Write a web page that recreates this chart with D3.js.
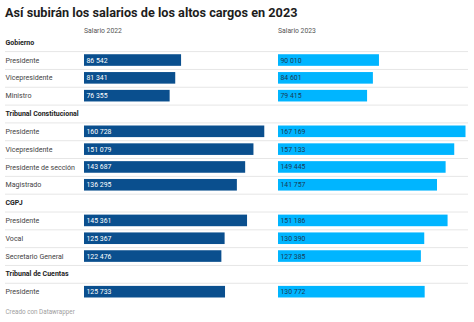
<!DOCTYPE html>
<html>
<head>
<meta charset="utf-8">
<script src="https://cdn.jsdelivr.net/npm/d3@7"></script>
<style>
  body { margin: 0; background: #fff; font-family: Roboto, "Noto Sans", sans-serif; }
  svg text { font-family: Roboto, "Noto Sans", sans-serif; }
</style>
</head>
<body>
<div id="chart"></div>
<script>
// data
var groups = ["Gobierno", "Tribunal Constitucional", "CGPJ", "Tribunal de Cuentas"];
var cargos = [
  ["Presidente", "Vicepresidente", "Ministro"],
  ["Presidente", "Vicepresidente", "Presidente de sección", "Magistrado"],
  ["Presidente", "Vocal", "Secretario General"],
  ["Presidente"]
];
var salario2022 = [
  [86542, 81341, 76355],
  [160728, 151079, 143687, 136295],
  [145361, 125367, 122476],
  [125733]
];
var salario2023 = [
  [90010, 84601, 79415],
  [167169, 157133, 149445, 141757],
  [151186, 130390, 127385],
  [130772]
];
var columns = ["Salario 2022", "Salario 2023"];

var width = 474, height = 322;
var svg = d3.select("#chart").append("svg")
  .attr("width", width)
  .attr("height", height);

// flatten into rows (headers take a slot too)
var rows = [];
groups.forEach(function(g, gi) {
  rows.push({type: "header", label: g});
  cargos[gi].forEach(function(c, ci) {
    rows.push({type: "row", label: c, v: [salario2022[gi][ci], salario2023[gi][ci]]});
  });
});

var y = d3.scaleBand()
  .domain(d3.range(rows.length))
  .range([33.3, 300.6])
  .paddingInner(0);

var maxVal = d3.max(salario2023, function(a) { return d3.max(a); });
var x = d3.scaleLinear().domain([0, maxVal]).range([0, 187.5]);

var colX = [84, 278];
var colColor = ["#0a4f8e", "#00b5ff"];
var textColor = ["#ffffff", "#1a3a55"];

svg.append("text")
  .attr("x", 5).attr("y", 17.3)
  .attr("font-size", 12.7)
  .attr("font-weight", "bold")
  .attr("fill", "#1d1d1d")
  .text("Así subirán los salarios de los altos cargos en 2023");

svg.selectAll(".colhead")
  .data(columns)
  .enter().append("text")
  .attr("x", function(d, i) { return colX[i]; })
  .attr("y", 32.5)
  .attr("font-size", 6.8)
  .attr("fill", "#555")
  .text(function(d) { return d; });

// separators
svg.selectAll(".sep")
  .data(d3.range(rows.length - 1))
  .enter().append("line")
  .attr("x1", 5).attr("x2", 468)
  .attr("y1", function(i) { return y(i) + y.bandwidth() + 0.5; })
  .attr("y2", function(i) { return y(i) + y.bandwidth() + 0.5; })
  .attr("stroke", "#e6e6e6")
  .attr("stroke-width", 1);

var row = svg.selectAll(".row")
  .data(rows)
  .enter().append("g")
  .attr("transform", function(d, i) { return "translate(0," + (y(i) + y.bandwidth() / 2) + ")"; });

row.append("text")
  .attr("x", 5.5)
  .attr("y", 2.6)
  .attr("font-size", function(d) { return d.type == "header" ? 7 : 7.1; })
  .attr("font-weight", function(d) { return d.type == "header" ? "bold" : "normal"; })
  .attr("fill", function(d) { return d.type == "header" ? "#222" : "#444"; })
  .text(function(d) { return d.label; });

var fmt = function(v) { return d3.format(",")(v).replace(/,/g, " "); };

row.filter(function(d) { return d.type == "row"; }).each(function(d) {
  var g = d3.select(this);
  d.v.forEach(function(v, k) {
    g.append("rect")
      .attr("x", colX[k])
      .attr("y", -5.8)
      .attr("width", x(v))
      .attr("height", 11.6)
      .attr("fill", colColor[k]);
    g.append("text")
      .attr("x", colX[k] + 2.5)
      .attr("y", 2.5)
      .attr("font-size", 6.9)
      .attr("fill", textColor[k])
      .text(fmt(v));
  });
});

svg.append("text")
  .attr("x", 5.5).attr("y", 314)
  .attr("font-size", 6.3)
  .attr("fill", "#a0a0a0")
  .text("Creado con Datawrapper");
</script>
</body>
</html>
